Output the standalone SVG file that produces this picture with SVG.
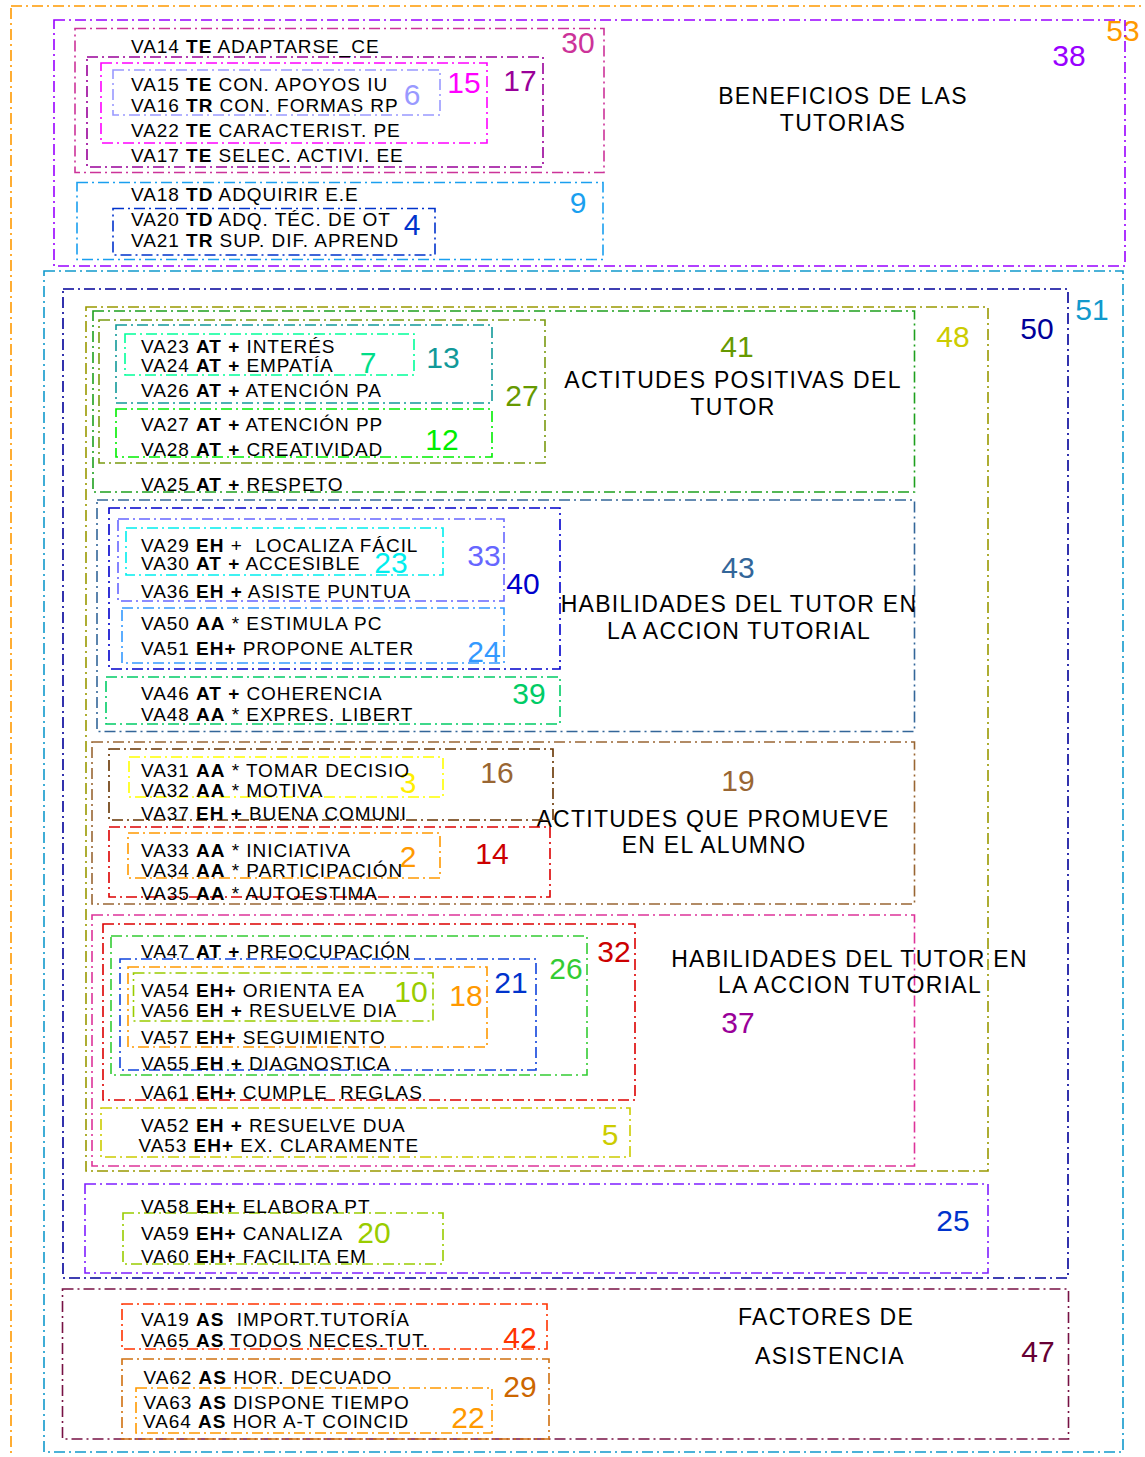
<svg xmlns="http://www.w3.org/2000/svg" width="1145" height="1457" viewBox="0 0 1145 1457">
<style>
.b{fill:none;stroke-width:1.6;stroke-dasharray:11 4 2 4}
.t{font-family:"Liberation Sans",Arial,sans-serif;font-size:19px;letter-spacing:0.95px;fill:#000;white-space:pre}
.k{font-weight:bold}
.n{font-family:"Liberation Sans",Arial,sans-serif;font-size:30px;text-anchor:middle}
.h{font-family:"Liberation Sans",Arial,sans-serif;font-size:23px;letter-spacing:1.3px;text-anchor:middle;fill:#000}
</style>
<rect width="1145" height="1457" fill="#fff"/>
<g id="box-53"><rect class="b" x="11" y="6" width="1140" height="1460" stroke="#FF9900"/><text class="n" x="1123" y="41" fill="#FF9900">53</text></g>
<g id="box-38"><rect class="b" x="54" y="20" width="1071" height="246" stroke="#9900FF"/><text class="n" x="1069" y="66" fill="#9900FF">38</text>
<text class="h" x="843" y="104">BENEFICIOS DE LAS</text><text class="h" x="843" y="131">TUTORIAS</text></g>
<g id="box-30"><rect class="b" x="75" y="28.5" width="529" height="144" stroke="#CC3399"/><text class="n" x="578" y="53" fill="#CC3399">30</text></g>
<g id="box-17"><rect class="b" x="87" y="57" width="456" height="110" stroke="#990099"/><text class="n" x="520" y="91" fill="#990099">17</text></g>
<g id="box-15"><rect class="b" x="101" y="63" width="386" height="80" stroke="#FF00FF"/><text class="n" x="464" y="93" fill="#FF00FF">15</text></g>
<g id="box-6"><rect class="b" x="113" y="70" width="327" height="45" stroke="#9999FF"/><text class="n" x="412" y="105" fill="#9999FF">6</text></g>
<g id="box-9"><rect class="b" x="77" y="182.5" width="526" height="77" stroke="#1A9FEF"/><text class="n" x="578" y="213" fill="#1A9FEF">9</text></g>
<g id="box-4"><rect class="b" x="113" y="208.5" width="322" height="46.5" stroke="#0033CC"/><text class="n" x="412" y="235" fill="#0033CC">4</text></g>
<g id="items-38">
<text class="t" x="131" y="53">VA14 <tspan class="k">TE</tspan> ADAPTARSE_CE</text>
<text class="t" x="131" y="90.7">VA15 <tspan class="k">TE</tspan> CON. APOYOS IU</text>
<text class="t" x="131" y="111.7">VA16 <tspan class="k">TR</tspan> CON. FORMAS RP</text>
<text class="t" x="131" y="137">VA22 <tspan class="k">TE</tspan> CARACTERIST. PE</text>
<text class="t" x="131" y="162">VA17 <tspan class="k">TE</tspan> SELEC. ACTIVI. EE</text>
<text class="t" x="131" y="201">VA18 <tspan class="k">TD</tspan> ADQUIRIR E.E</text>
<text class="t" x="131" y="225.7">VA20 <tspan class="k">TD</tspan> ADQ. TÉC. DE OT</text>
<text class="t" x="131" y="246.7">VA21 <tspan class="k">TR</tspan> SUP. DIF. APREND</text>
</g>
<g id="box-51"><rect class="b" x="44" y="271" width="1079" height="1181" stroke="#1199CC"/><text class="n" x="1092" y="320" fill="#1199CC">51</text></g>
<g id="box-50"><rect class="b" x="63" y="289" width="1005" height="989" stroke="#000099"/><text class="n" x="1037" y="339" fill="#000099">50</text></g>
<g id="box-48"><rect class="b" x="86" y="307" width="902" height="864" stroke="#999900"/><text class="n" x="953" y="347" fill="#CCCC00">48</text></g>
<g id="box-41"><rect class="b" x="93" y="311" width="821.5" height="181" stroke="#1EA01E"/><text class="n" x="737" y="357" fill="#669900">41</text>
<text class="h" x="733" y="388">ACTITUDES POSITIVAS DEL</text><text class="h" x="733" y="415">TUTOR</text></g>
<g id="box-27"><rect class="b" x="99" y="320" width="446" height="143" stroke="#7A9A10"/><text class="n" x="522" y="406" fill="#669900">27</text></g>
<g id="box-13"><rect class="b" x="116" y="325" width="376" height="78" stroke="#119999"/><text class="n" x="443" y="368" fill="#119999">13</text></g>
<g id="box-7"><rect class="b" x="125" y="334" width="289" height="41" stroke="#00FF99"/><text class="n" x="368" y="373" fill="#00DD88">7</text></g>
<g id="box-12"><rect class="b" x="116" y="409" width="376" height="48" stroke="#00EE00"/><text class="n" x="442" y="450" fill="#00EE00">12</text></g>
<g id="items-41">
<text class="t" x="141" y="353.3">VA23 <tspan class="k">AT +</tspan> INTERÉS</text>
<text class="t" x="141" y="372.3">VA24 <tspan class="k">AT +</tspan> EMPATÍA</text>
<text class="t" x="141" y="397.3">VA26 <tspan class="k">AT +</tspan> ATENCIÓN PA</text>
<text class="t" x="141" y="430.7">VA27 <tspan class="k">AT +</tspan> ATENCIÓN PP</text>
<text class="t" x="141" y="455.7">VA28 <tspan class="k">AT +</tspan> CREATIVIDAD</text>
<text class="t" x="141" y="491">VA25 <tspan class="k">AT +</tspan> RESPETO</text>
</g>
<g id="box-43"><rect class="b" x="97" y="500" width="817.5" height="231.5" stroke="#336699"/><text class="n" x="738" y="578" fill="#336699">43</text>
<text class="h" x="739" y="612">HABILIDADES DEL TUTOR EN</text><text class="h" x="739" y="639">LA ACCION TUTORIAL</text></g>
<g id="box-40"><rect class="b" x="109" y="508" width="451" height="161" stroke="#0000CC"/><text class="n" x="523" y="594" fill="#0000CC">40</text></g>
<g id="box-33"><rect class="b" x="118" y="519" width="386" height="82" stroke="#6666FF"/><text class="n" x="484" y="566" fill="#6666FF">33</text></g>
<g id="box-23"><rect class="b" x="126" y="528" width="317" height="47" stroke="#00EEEE"/><text class="n" x="391" y="573" fill="#00EEEE">23</text></g>
<g id="box-24"><rect class="b" x="122" y="608" width="382" height="55" stroke="#3399FF"/><text class="n" x="484" y="662" fill="#3399FF">24</text></g>
<g id="box-39"><rect class="b" x="106" y="677" width="454" height="47" stroke="#00CC66"/><text class="n" x="529" y="704" fill="#00CC66">39</text></g>
<g id="items-43">
<text class="t" x="141" y="552.3">VA29 <tspan class="k">EH</tspan> +  LOCALIZA FÁCIL</text>
<text class="t" x="141" y="570">VA30 <tspan class="k">AT +</tspan> ACCESIBLE</text>
<text class="t" x="141" y="598.3">VA36 <tspan class="k">EH +</tspan> ASISTE PUNTUA</text>
<text class="t" x="141" y="630">VA50 <tspan class="k">AA</tspan> * ESTIMULA PC</text>
<text class="t" x="141" y="655">VA51 <tspan class="k">EH+</tspan> PROPONE ALTER</text>
<text class="t" x="141" y="700">VA46 <tspan class="k">AT +</tspan> COHERENCIA</text>
<text class="t" x="141" y="721">VA48 <tspan class="k">AA</tspan> * EXPRES. LIBERT</text>
</g>
<g id="box-19"><rect class="b" x="92" y="742" width="822.5" height="162" stroke="#996633"/><text class="n" x="738" y="791" fill="#996633">19</text>
<text class="h" x="713" y="826.7">ACTITUDES QUE PROMUEVE</text><text class="h" x="714" y="853.3">EN EL ALUMNO</text></g>
<g id="box-16"><rect class="b" x="109" y="749" width="444" height="71" stroke="#663300"/><text class="n" x="497" y="783" fill="#996633">16</text></g>
<g id="box-3"><rect class="b" x="129" y="757" width="314" height="40" stroke="#FFFF00"/><text class="n" x="408" y="793" fill="#FFEE00">3</text></g>
<g id="box-14"><rect class="b" x="109" y="827" width="441" height="70" stroke="#DD0000"/><text class="n" x="492" y="864" fill="#CC0000">14</text></g>
<g id="box-2"><rect class="b" x="128" y="833" width="312" height="45" stroke="#FF9900"/><text class="n" x="408" y="867" fill="#FF9900">2</text></g>
<g id="items-19">
<text class="t" x="141" y="776.7">VA31 <tspan class="k">AA</tspan> * TOMAR DECISIO</text>
<text class="t" x="141" y="796.7">VA32 <tspan class="k">AA</tspan> * MOTIVA</text>
<text class="t" x="141" y="820">VA37 <tspan class="k">EH +</tspan> BUENA COMUNI</text>
<text class="t" x="141" y="857.3">VA33 <tspan class="k">AA</tspan> * INICIATIVA</text>
<text class="t" x="141" y="876.7">VA34 <tspan class="k">AA</tspan> * PARTICIPACIÓN</text>
<text class="t" x="141" y="900">VA35 <tspan class="k">AA</tspan> * AUTOESTIMA</text>
</g>
<g id="box-37"><rect class="b" x="92" y="915" width="822.5" height="251" stroke="#DD3399"/><text class="n" x="738" y="1033" fill="#990099">37</text>
<text class="h" x="849.5" y="966.7">HABILIDADES DEL TUTOR EN</text><text class="h" x="850" y="993.3">LA ACCION TUTORIAL</text></g>
<g id="box-32"><rect class="b" x="103" y="924" width="532" height="176" stroke="#DD0000"/><text class="n" x="614" y="962" fill="#CC0000">32</text></g>
<g id="box-26"><rect class="b" x="111" y="936" width="476" height="139" stroke="#33CC33"/><text class="n" x="566" y="979" fill="#33CC33">26</text></g>
<g id="box-21"><rect class="b" x="120" y="959" width="416" height="111" stroke="#1144DD"/><text class="n" x="511" y="993" fill="#0033CC">21</text></g>
<g id="box-18"><rect class="b" x="128" y="967" width="359" height="80" stroke="#FF9900"/><text class="n" x="466" y="1006" fill="#FF9900">18</text></g>
<g id="box-10"><rect class="b" x="133.5" y="973" width="299.5" height="48" stroke="#99CC00"/><text class="n" x="411" y="1002" fill="#99CC00">10</text></g>
<g id="box-5"><rect class="b" x="101" y="1108" width="529" height="49" stroke="#CCCC00"/><text class="n" x="610" y="1145" fill="#CCCC00">5</text></g>
<g id="items-37">
<text class="t" x="141" y="957.7">VA47 <tspan class="k">AT +</tspan> PREOCUPACIÓN</text>
<text class="t" x="141" y="997.3">VA54 <tspan class="k">EH+</tspan> ORIENTA EA</text>
<text class="t" x="141" y="1017.3">VA56 <tspan class="k">EH +</tspan> RESUELVE DIA</text>
<text class="t" x="141" y="1044">VA57 <tspan class="k">EH+</tspan> SEGUIMIENTO</text>
<text class="t" x="141" y="1070">VA55 <tspan class="k">EH +</tspan> DIAGNOSTICA</text>
<text class="t" x="141" y="1099.3">VA61 <tspan class="k">EH+</tspan> CUMPLE  REGLAS</text>
<text class="t" x="141" y="1132.3">VA52 <tspan class="k">EH +</tspan> RESUELVE DUA</text>
<text class="t" x="138.5" y="1152.3">VA53 <tspan class="k">EH+</tspan> EX. CLARAMENTE</text>
</g>
<g id="box-25"><rect class="b" x="85" y="1184" width="903" height="89" stroke="#7F1FFF"/><text class="n" x="953" y="1231" fill="#0033CC">25</text></g>
<g id="box-20"><rect class="b" x="123" y="1213" width="320" height="51" stroke="#99CC00"/><text class="n" x="374" y="1243" fill="#99CC00">20</text></g>
<g id="items-25">
<text class="t" x="141" y="1212.7">VA58 <tspan class="k">EH+</tspan> ELABORA PT</text>
<text class="t" x="141" y="1240">VA59 <tspan class="k">EH+</tspan> CANALIZA</text>
<text class="t" x="141" y="1263.3">VA60 <tspan class="k">EH+</tspan> FACILITA EM</text>
</g>
<g id="box-47"><rect class="b" x="62.5" y="1289" width="1006" height="150" stroke="#771144"/><text class="n" x="1038" y="1362" fill="#660033">47</text>
<text class="h" x="826" y="1325">FACTORES DE</text><text class="h" x="830" y="1364.3">ASISTENCIA</text></g>
<g id="box-42"><rect class="b" x="122" y="1304" width="425" height="45" stroke="#FF3300"/><text class="n" x="520" y="1348" fill="#FF3300">42</text></g>
<g id="box-29"><rect class="b" x="122" y="1359" width="427" height="80" stroke="#D07010"/><text class="n" x="520" y="1397" fill="#CC6600">29</text></g>
<g id="box-22"><rect class="b" x="136" y="1388" width="356" height="45" stroke="#FF9900"/><text class="n" x="468" y="1428" fill="#FF9900">22</text></g>
<g id="items-47">
<text class="t" x="141" y="1325.7">VA19 <tspan class="k">AS</tspan>  IMPORT.TUTORÍA</text>
<text class="t" x="141" y="1346.7">VA65 <tspan class="k">AS</tspan> TODOS NECES.TUT.</text>
<text class="t" x="143.5" y="1384.3">VA62 <tspan class="k">AS</tspan> HOR. DECUADO</text>
<text class="t" x="143.5" y="1409.3">VA63 <tspan class="k">AS</tspan> DISPONE TIEMPO</text>
<text class="t" x="143" y="1428.3">VA64 <tspan class="k">AS</tspan> HOR A-T COINCID</text>
</g>
<g id="connectors"/>
</svg>
